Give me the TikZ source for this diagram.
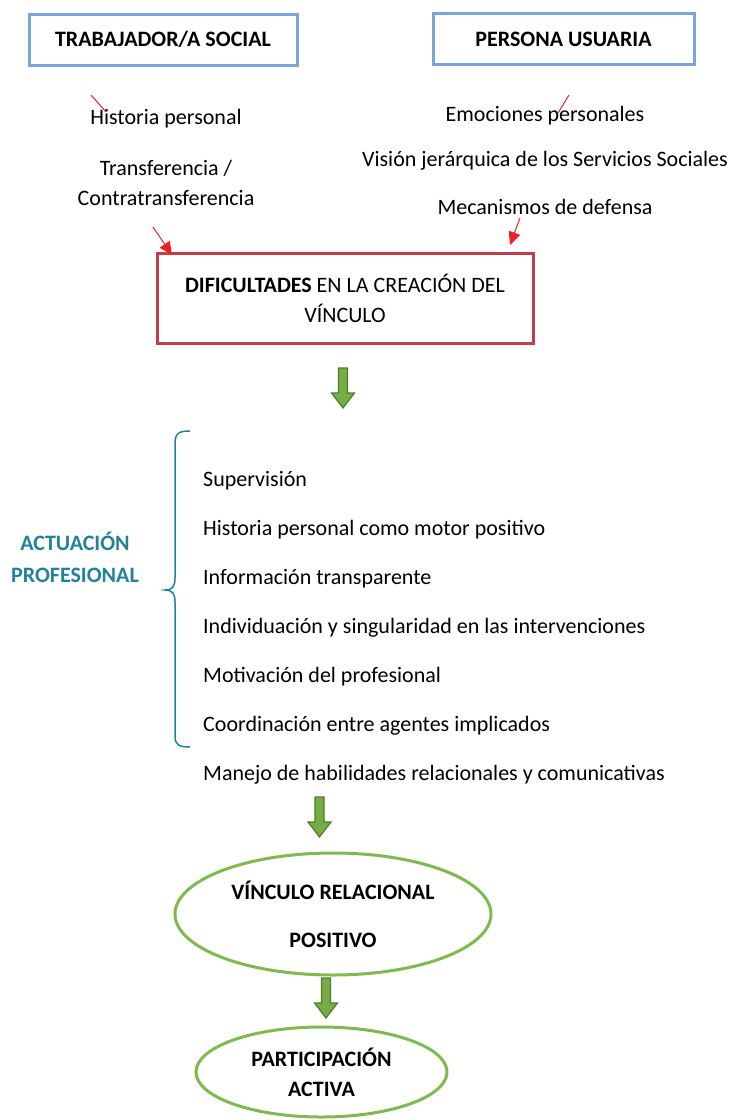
\documentclass[tikz,border=0pt]{standalone}
\usepackage{fontspec}
\setmainfont{Carlito}
\usetikzlibrary{arrows.meta,shapes.geometric}
\definecolor{azulcaja}{RGB}{124,165,214}
\definecolor{rojocaja}{RGB}{192,62,76}
\definecolor{rojoflecha}{RGB}{238,32,36}
\definecolor{verdeelipse}{RGB}{128,186,78}
\definecolor{verdeflecha}{RGB}{118,172,70}
\definecolor{verdeborde}{RGB}{80,124,44}
\definecolor{azulteal}{RGB}{33,131,155}

\begin{document}
\begin{tikzpicture}[x=1pt, y=-1pt, font=\fontsize{22}{30}\selectfont]
  \tikzstyle{caja} = [rectangle, draw=azulcaja, line width=3pt, minimum height=51pt,
                                    font=\fontsize{22}{30}\selectfont\bfseries]
  \tikzstyle{texto} = [inner sep=0pt, align=center]
  \tikzstyle{item} = [inner sep=0pt, anchor=west, text height=15pt, text depth=5pt]
  \tikzstyle{dificultad} = [rectangle, draw=rojocaja, line width=3pt, minimum width=376pt,
                                    minimum height=90pt, align=center]
  \tikzstyle{elipse} = [ellipse, draw=verdeelipse, line width=3pt, inner sep=0pt, align=center,
                                    font=\fontsize{22}{30}\selectfont\bfseries]
  \tikzstyle{flecha} = [draw=verdeborde, fill=verdeflecha, line width=1.2pt, line join=miter]
  \tikzstyle{marca} = [draw=rojoflecha, line width=1pt]
\useasboundingbox (0,0) rectangle (731,1120);
% cajas de arriba
\node[caja, minimum width=268pt](trab) at (163,39.5){TRABAJADOR/A SOCIAL};
\node[caja, minimum width=261pt](pers) at (563.5,39){PERSONA USUARIA};
\node[texto](hist) at (166,119){Historia personal};
\node[texto](trans) at (166,183){Transferencia /\\Contratransferencia};
\node[texto](emoc) at (545,116){Emociones personales};
\node[texto](vis) at (545,161){Visión jerárquica de los Servicios Sociales};
\node[texto](meca) at (545,207){Mecanismos de defensa};
\node[dificultad](dif) at (345,298){\textbf{DIFICULTADES} EN LA CREACIÓN DEL\\VÍNCULO};
% flechas rojas
\coordinate (r1a) at (153,227);
\coordinate (r1b) at (172,255);
\coordinate (r2a) at (520,218);
\coordinate (r2b) at (510,245);
\draw[marca, -{Triangle[length=13pt,width=12pt]}] (r1a) -- (r1b);
\draw[marca, -{Triangle[length=13pt,width=12pt]}] (r2a) -- (r2b);
\draw[marca] (91,95) -- (106,112);
\draw[marca] (569,95) -- (558,113);
% flechas verdes
\foreach \x/\y in {343/368, 319.5/797, 326/978}
  \draw[flecha, shift={(\x,\y)}] (-4.5,0) -- (4.5,0) -- (4.5,25) -- (11.5,25) -- (0,40)
        -- (-11.5,25) -- (-4.5,25) -- cycle;
% actuacion profesional
\node[texto, text=azulteal, font=\fontsize{22}{32}\selectfont\bfseries](act) at (75,557){ACTUACIÓN\\PROFESIONAL};
\draw[azulteal, line width=1.5pt] (190,431) .. controls (179,431) and (175,433) .. (175,444)
      -- (175,578) .. controls (175,587) and (172,590) .. (165,590)
      .. controls (172,590) and (175,593) .. (175,602)
      -- (175,736) .. controls (175,745) and (179,747) .. (190,747);
\foreach \txt [count=\i] in {Supervisión, Historia personal como motor positivo,
    Información transparente, Individuación y singularidad en las intervenciones,
    Motivación del profesional, Coordinación entre agentes implicados,
    Manejo de habilidades relacionales y comunicativas}
  \node[item](item\i) at (203,432+49*\i){\txt};
% elipses
\node[elipse, minimum width=316pt, minimum height=122pt](vinc) at (333,914){VÍNCULO RELACIONAL\\[18pt]POSITIVO};
\node[elipse, minimum width=251pt, minimum height=90pt](part) at (321.5,1072){PARTICIPACIÓN\\ACTIVA};
\end{tikzpicture}
\end{document}
